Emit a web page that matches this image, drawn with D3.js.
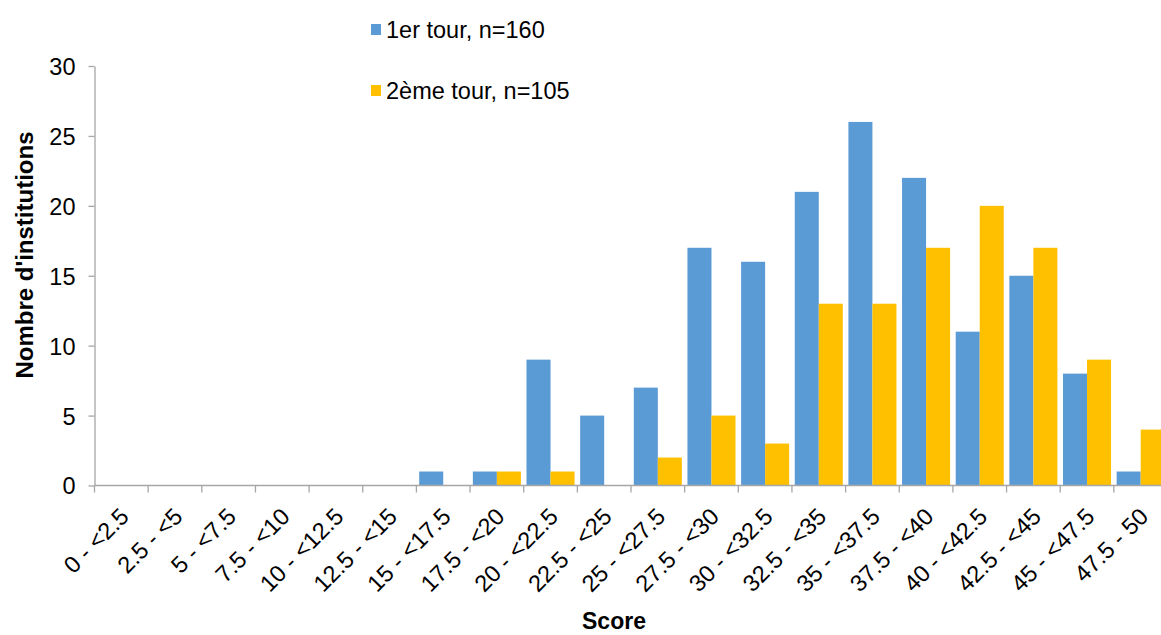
<!DOCTYPE html>
<html><head><meta charset="utf-8">
<script src="https://cdn.jsdelivr.net/npm/d3@7"></script>
<style>
body{margin:0;background:#fff;}
text{font-family:"Liberation Sans",Arial,sans-serif;fill:#000;}
</style></head>
<body><svg id="chart" width="1161" height="635"></svg>
<script>
const categories = ["0 - <2.5","2.5 - <5","5 - <7.5","7.5 - <10","10 - <12.5","12.5 - <15","15 - <17.5","17.5 - <20","20 - <22.5","22.5 - <25","25 - <27.5","27.5 - <30","30 - <32.5","32.5 - <35","35 - <37.5","37.5 - <40","40 - <42.5","42.5 - <45","45 - <47.5","47.5 - 50"];
const tour1 = [0,0,0,0,0,0,1,1,9,5,7,17,16,21,26,22,11,15,8,1];
const tour2 = [0,0,0,0,0,0,0,1,1,0,2,5,3,13,13,17,20,17,9,4];
const seriesNames = ["1er tour, n=160","2ème tour, n=105"];
const seriesColors = ["#5B9BD5","#FFC000"];
const yTicks = [0,5,10,15,20,25,30];

(function(){
const svg = d3.select("#chart");
const pLeft = 94.5, pRight = 94.5 + 20*53.65, pTop = 66, pBottom = 485.5;
const x = d3.scaleBand().domain(categories).range([pLeft, pRight]).paddingInner(0).paddingOuter(0);
const bw = x.bandwidth();
const xs = d3.scaleBand().domain([0,1]).range([2.8, bw-2.8]);
const y = d3.scaleLinear().domain([0,30]).range([pBottom, pTop]);
const axisColor = "#A6A6A6";

// bars
const data = [tour1, tour2];
data.forEach((vals, si) => {
  svg.append("g").selectAll("rect").data(vals).join("rect")
    .attr("x", (d,i) => x(categories[i]) + xs(si))
    .attr("width", xs.bandwidth())
    .attr("y", d => y(d))
    .attr("height", d => y(0) - y(d))
    .attr("fill", seriesColors[si]);
});

// y axis
const yAxis = svg.append("g").attr("transform", `translate(${pLeft},0)`)
  .call(d3.axisLeft(y).tickValues(yTicks).tickSize(6).tickPadding(13).tickSizeOuter(0));
yAxis.select(".domain").attr("stroke", axisColor).attr("stroke-width", 1.3);
yAxis.selectAll(".tick line").attr("stroke", axisColor).attr("stroke-width", 1.3);
yAxis.selectAll(".tick text").style("font-size", "23.5px").style("font-family", "Liberation Sans, Arial, sans-serif").attr("fill", "#000").attr("dy", "0.36em");

// x axis line and ticks at category boundaries
const xg = svg.append("g");
xg.append("line").attr("x1", pLeft).attr("x2", pRight).attr("y1", pBottom).attr("y2", pBottom)
  .attr("stroke", axisColor).attr("stroke-width", 1.3);
const bounds = categories.map(c => x(c)).concat([x(categories[categories.length-1]) + bw]);
xg.selectAll("line.tk").data(bounds).join("line").attr("class","tk")
  .attr("x1", d=>d).attr("x2", d=>d).attr("y1", pBottom).attr("y2", pBottom+7)
  .attr("stroke", axisColor).attr("stroke-width", 1.3);
xg.selectAll("text").data(categories).join("text")
  .attr("text-anchor", "end")
  .attr("transform", d => `translate(${x(d) + bw/2 + 9},518) rotate(-45)`)
  .style("font-size", "23.5px")
  .text(d => d);

// axis titles
svg.append("text").attr("transform", "translate(33,255) rotate(-90)")
  .attr("text-anchor", "middle").style("font-size", "24px").style("font-weight", "bold")
  .text("Nombre d'institutions");
svg.append("text").attr("x", 614).attr("y", 629).attr("text-anchor", "middle")
  .style("font-size", "23px").style("font-weight", "bold").text("Score");

// legend
const lg = svg.append("g");
seriesNames.forEach((n, i) => {
  const by = 38 + i*61;
  lg.append("rect").attr("x", 371).attr("y", by-14).attr("width", 10).attr("height", 11)
    .attr("fill", seriesColors[i]);
  lg.append("text").attr("x", 386).attr("y", by).style("font-size", "23.5px").text(n);
});
})();
</script></body></html>
